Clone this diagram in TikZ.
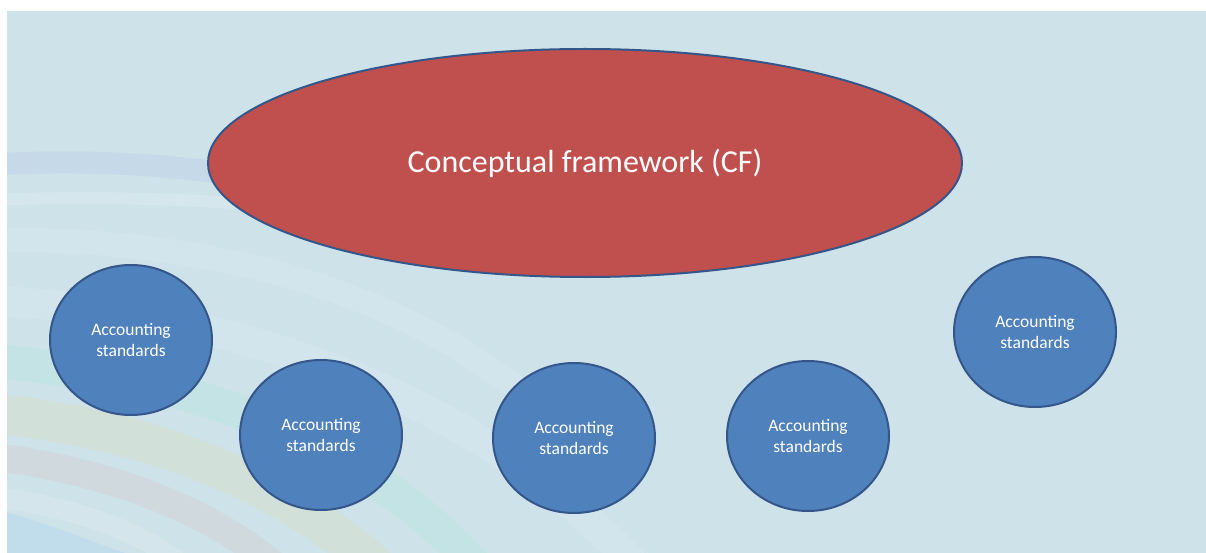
\documentclass[tikz,border=0pt]{standalone}
\usepackage{fontspec}
\setmainfont{Carlito}
\usetikzlibrary{shapes.geometric}

\definecolor{slidebg}{HTML}{CEE2EA}
\definecolor{accentred}{HTML}{C0504D}
\definecolor{accentblue}{HTML}{4F81BD}
\definecolor{outlineblue}{HTML}{34568A}

\tikzset{
  bigoval/.style={ellipse, draw=outlineblue, line width=2pt, fill=accentred,
    inner sep=0pt, minimum width=754pt, minimum height=228pt,
    text=white, font=\fontsize{32}{38}\selectfont},
  stdcircle/.style={ellipse, draw=outlineblue, line width=2pt, fill=accentblue,
    inner sep=0pt, minimum width=162pt, minimum height=150pt,
    text=white, align=center, font=\fontsize{17.5}{20.5}\selectfont},
  swoosh/.style={line cap=butt, draw opacity=#1},
}

\begin{document}
\begin{tikzpicture}[x=1pt, y=-1pt]
  \useasboundingbox (0,0) rectangle (1206,553);
  \fill[white] (0,0) rectangle (1206,553);
  \fill[slidebg] (7,11) rectangle (1206,553);

  % soft swirl bands of the slide background
  \begin{scope}
    \clip (7,11) rectangle (1206,553);
    \draw[swoosh=0.05, color=blue!60!gray, line width=22pt]
      (-20,165) .. controls (100,158) and (200,165) .. (320,190);
    \draw[swoosh=0.16, color=white, line width=12pt]
      (-20,200) .. controls (120,195) and (250,200) .. (340,215);
    \draw[swoosh=0.10, color=white, line width=24pt]
      (-20,240) .. controls (200,236) and (420,285) .. (574,438);
    \draw[swoosh=0.12, color=white, line width=30pt]
      (-20,300) .. controls (250,312) and (480,400) .. (640,570);
    \draw[swoosh=0.05, color=green!50!cyan, line width=34pt]
      (-20,360) .. controls (180,375) and (350,430) .. (480,570);
    \draw[swoosh=0.07, color=yellow!70!orange, line width=40pt]
      (-20,412) .. controls (150,428) and (280,480) .. (380,570);
    \draw[swoosh=0.05, color=red!40!orange, line width=28pt]
      (-20,455) .. controls (110,470) and (210,510) .. (280,570);
    \draw[swoosh=0.14, color=white, line width=20pt]
      (-20,495) .. controls (70,505) and (140,530) .. (190,570);
    \fill[blue!50!cyan, opacity=0.06]
      (7,512) .. controls (60,528) and (100,545) .. (125,553) -- (7,553) -- cycle;
  \end{scope}

  % framework oval
  \node[bigoval] (cf) at (585,163) {Conceptual framework (CF)};

  % standards circles
  \node[stdcircle] (s1) at (131,340)  {Accounting\\standards};
  \node[stdcircle] (s2) at (321,435)  {Accounting\\standards};
  \node[stdcircle] (s3) at (574,438)  {Accounting\\standards};
  \node[stdcircle] (s4) at (808,436)  {Accounting\\standards};
  \node[stdcircle] (s5) at (1035,332) {Accounting\\standards};
\end{tikzpicture}
\end{document}
